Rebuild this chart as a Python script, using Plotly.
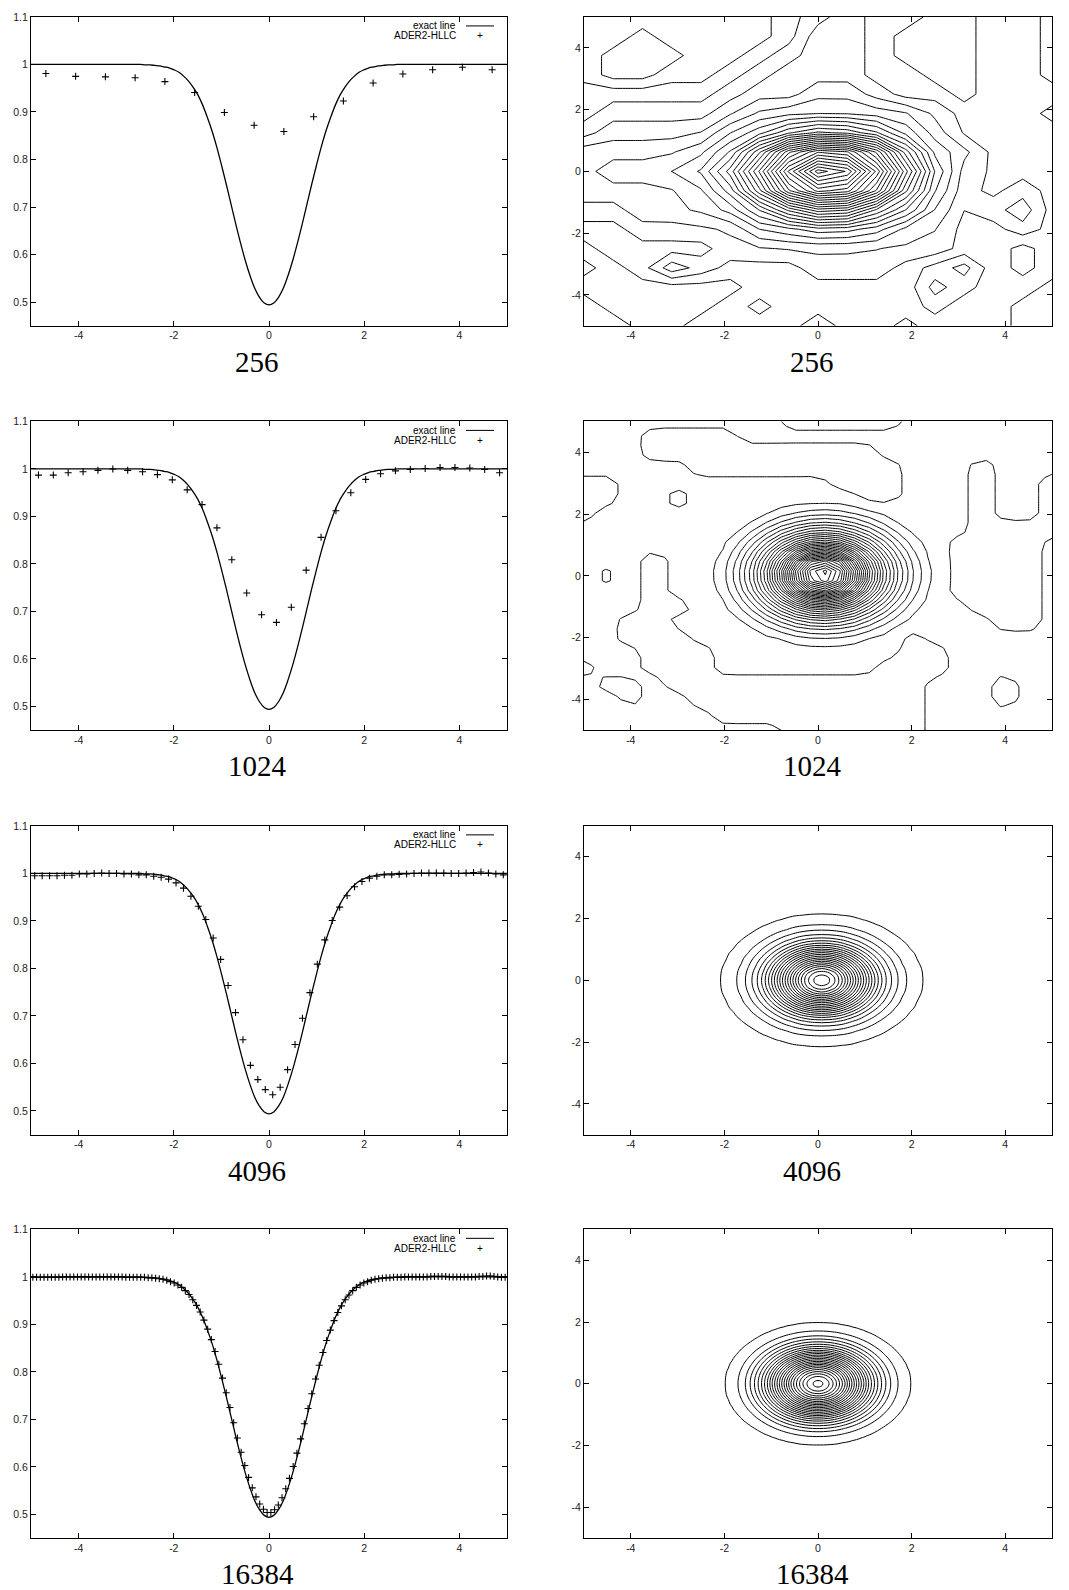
import numpy as np
import plotly.graph_objects as go

# ---------------- 1-D cuts (left column) ----------------
# exact profile, sampled at |x| = 0.0, 0.1, ..., 5.0
exact_r = [round(0.1 * i, 1) for i in range(51)]
exact_rho = [0.494, 0.498, 0.510, 0.529, 0.556, 0.588, 0.625, 0.665, 0.707, 0.749,
             0.789, 0.827, 0.861, 0.890, 0.916, 0.937, 0.953, 0.966, 0.976, 0.984,
             0.989, 0.993, 0.995, 0.997, 0.998, 0.999, 0.999, 1.000, 1.000, 1.000,
             1.000, 1.000, 1.000, 1.000, 1.000, 1.000, 1.000, 1.000, 1.000, 1.000,
             1.000, 1.000, 1.000, 1.000, 1.000, 1.000, 1.000, 1.000, 1.000, 1.000,
             1.000]

cut_256 = [0.981, 0.975, 0.974, 0.972, 0.964, 0.941, 0.899, 0.872,
           0.859, 0.890, 0.923, 0.961, 0.980, 0.989, 0.994, 0.989]

cut_1024 = [0.987, 0.987, 0.992, 0.994, 0.997, 1.000, 0.997, 0.994, 0.988, 0.977,
            0.956, 0.925, 0.876, 0.809, 0.739, 0.693, 0.677, 0.709, 0.787, 0.856,
            0.912, 0.950, 0.978, 0.990, 0.996, 0.999, 1.001, 1.003, 1.003, 1.002,
            0.999, 0.992]

cut_4096 = [0.995, 0.995, 0.995, 0.995, 0.996, 0.996, 0.999, 0.999, 1.000, 1.001,
            1.000, 1.000, 0.999, 0.999, 0.997, 0.997, 0.994, 0.992, 0.988, 0.980,
            0.969, 0.952, 0.931, 0.903, 0.864, 0.819, 0.764, 0.707, 0.650, 0.596,
            0.566, 0.545, 0.534, 0.550, 0.587, 0.640, 0.695, 0.749, 0.809, 0.860,
            0.901, 0.929, 0.953, 0.972, 0.983, 0.990, 0.994, 0.997, 0.997, 0.998,
            0.999, 1.000, 1.001, 1.001, 1.001, 1.001, 1.000, 1.000, 1.001, 1.002,
            1.003, 1.001, 0.999, 0.997]

cut_16384 = [0.999, 0.999, 0.999, 0.999, 0.999, 0.999, 0.999, 0.999, 1.000, 1.000,
             1.000, 1.000, 1.000, 1.000, 1.000, 1.000, 1.000, 1.000, 1.000, 1.000,
             1.000, 1.000, 1.000, 1.000, 1.000, 0.999, 0.999, 0.999, 0.999, 0.999,
             0.999, 0.998, 0.998, 0.997, 0.996, 0.995, 0.993, 0.990, 0.987, 0.983,
             0.978, 0.971, 0.963, 0.952, 0.940, 0.926, 0.909, 0.890, 0.868, 0.843,
             0.816, 0.787, 0.756, 0.725, 0.693, 0.661, 0.631, 0.603, 0.578, 0.556,
             0.537, 0.522, 0.511, 0.504,
             0.504, 0.510, 0.520, 0.535, 0.554, 0.576, 0.601, 0.629, 0.659, 0.691,
             0.723, 0.754, 0.785, 0.814, 0.841, 0.866, 0.888, 0.908, 0.925, 0.939,
             0.952, 0.962, 0.971, 0.978, 0.983, 0.987, 0.990, 0.993, 0.995, 0.996,
             0.997, 0.998, 0.998, 0.999,
             0.999, 0.999, 1.000, 1.000, 1.000, 1.000, 1.000, 1.000, 1.000, 1.001,
             1.001, 1.001, 1.001, 1.001, 1.000, 1.000, 1.000, 1.000, 1.000, 1.000,
             1.000, 1.000, 1.001, 1.001, 1.002, 1.002, 1.001, 1.000, 0.999, 0.999]

labels = ["256", "1024", "4096", "16384"]
mesh_n = {"256": 16, "1024": 32, "4096": 64, "16384": 128}

# ---------------- 2-D fields (right column) ----------------
# 256: background map (rows y=5 -> -5, cols x=-5 -> 5, step 0.625) + vortex deficit
bg256_levels = {"a": 0.972, "b": 0.977, "c": 0.982, "d": 0.987,
                "e": 0.992, "f": 0.997, "g": 1.002, "h": 1.007}
bg256_map = [
    "gggggggfedeeffeef",
    "gghggggfddefffeef",
    "ghhhggfeddefffeef",
    "ghhggfedddeeffeef",
    "fffffeddccdeefeee",
    "feeeedccccccdeeef",
    "eddddcccccccdeeee",
    "ccccccccccccddeee",
    "cbbbbbccccccdeeee",
    "ccccccccccccdeede",
    "ddccccccccccdedce",
    "eeddddcccccddeede",
    "feeeeddddddddeefe",
    "gfecdeeedddefgefe",
    "ffffffeeeeeegfeef",
    "effffefeeeeefeeff",
    "eeffeeeedeefeeeff",
]
def256_d = [0.0, 0.6, 1.25, 1.9, 2.5, 3.1, 3.8, 12.0]
def256_v = [0.127, 0.105, 0.070, 0.030, 0.010, 0.003, 0.0, 0.0]
center256 = (0.2, 0.0)
aspect256_up = 0.68
aspect256_down = 0.8

# 1024: far-field map (rows y=5 -> -5, cols x=-5 -> 5, step 0.5) + vortex deficit
bg1024_levels = {".": 0.997, "H": 1.004, "L": 0.984}
bg1024_map = [
    ".........HHHHH.......",
    "...HHHH..............",
    "...HHHHHHHHHH........",
    ".....HHHHHHHHH...H...",
    "LL.........HHH...H..H",
    "LL..H.......HH...H..H",
    "L................H..H",
    ".................HHHH",
    "................HHHH.",
    "...H............HHHH.",
    ".L.H............HHHH.",
    "...H............HHHH.",
    "...HH............HHH.",
    "..HH..............HH.",
    "..HHH.........H......",
    "...HHH........HH.....",
    "L..HHH.......HHH.....",
    ".LL.HHHHHHHHHHH...H..",
    "..L..HHHHHHHHHH...H..",
    "......HHHHHHHHH......",
    ".........HHHHHH......",
]
def1024_r = [0.0, 0.25, 0.5, 0.75, 1.0, 1.25, 1.5, 1.75, 2.0, 2.25, 2.5, 3.0, 8.0]
def1024_v = [0.329, 0.309, 0.265, 0.202, 0.145, 0.100, 0.066, 0.040, 0.021, 0.008, 0.003, 0.0, 0.0]
center1024 = (0.12, 0.05)

prof4096_r = [0.0, 0.08, 0.23, 0.39, 0.55, 0.7, 0.86, 1.02, 1.17, 1.33, 1.48, 1.64,
              1.8, 1.95, 2.11, 2.27, 2.42, 2.6, 3.0, 8.0]
prof4096_v = [0.532, 0.538, 0.557, 0.592, 0.645, 0.701, 0.757, 0.814, 0.862, 0.902,
              0.930, 0.952, 0.970, 0.981, 0.989, 0.993, 0.995, 0.997, 0.999, 0.999]
center4096 = (0.08, 0.0)

prof16384_r = [0.0, 0.04, 0.12, 0.2, 0.27, 0.35, 0.43, 0.51, 0.59, 0.66, 0.74, 0.82,
               0.9, 0.98, 1.05, 1.13, 1.21, 1.29, 1.37, 1.45, 1.52, 1.6, 1.68, 1.76,
               1.84, 1.91, 1.99, 2.07, 2.15, 2.3, 2.5, 3.0, 8.0]
prof16384_v = [0.503, 0.504, 0.511, 0.522, 0.537, 0.557, 0.580, 0.606, 0.634, 0.664,
               0.696, 0.728, 0.760, 0.790, 0.819, 0.846, 0.871, 0.893, 0.913, 0.930,
               0.945, 0.957, 0.967, 0.975, 0.981, 0.986, 0.9905, 0.993, 0.995, 0.997,
               0.998, 0.999, 0.999]
center16384 = (0.0, 0.0)

# contour levels (start, end, step)
levels = {
    "256": (0.86, 1.005, 0.005),
    "1024": (0.68, 1.0, 0.01),
    "4096": (0.55, 0.99, 0.02),
    "16384": (0.51, 0.99, 0.02),
}


# ---------------- helpers ----------------
def cell_centers(n):
    h = 10.0 / n
    return -5 + h / 2 + h * np.arange(n)


def mesh_nodes(n):
    # cell centres plus the two domain edges
    return np.concatenate([[-5.0], cell_centers(n), [5.0]])


def map_to_array(rows, table):
    return np.array([[table[c] for c in row] for row in rows])[::-1]


def upsample(coarse, cx, cy, fx, fy):
    tmp = np.array([np.interp(fx, cx, row) for row in coarse])
    return np.array([np.interp(fy, cy, tmp[:, j]) for j in range(len(fx))]).T


fields = {}
# 256 (contoured on the 17 nodes of the background map)
g = np.linspace(-5, 5, 17)
X, Y = np.meshgrid(g, g)
bg = map_to_array(bg256_map, bg256_levels)
dy = Y - center256[1]
ay = np.where(dy > 0, aspect256_up, aspect256_down)
d = np.sqrt((X - center256[0]) ** 2 + (dy / ay) ** 2)
fields["256"] = (g, bg - np.interp(d, def256_d, def256_v))
# 1024
g = mesh_nodes(mesh_n["1024"])
X, Y = np.meshgrid(g, g)
gc = np.linspace(-5, 5, 21)
bg = upsample(map_to_array(bg1024_map, bg1024_levels), gc, gc, g, g)
r = np.hypot(X - center1024[0], Y - center1024[1])
fields["1024"] = (g, bg - np.interp(r, def1024_r, def1024_v))
# 4096
g = mesh_nodes(mesh_n["4096"])
X, Y = np.meshgrid(g, g)
r = np.hypot(X - center4096[0], Y - center4096[1])
fields["4096"] = (g, np.interp(r, prof4096_r, prof4096_v))
# 16384
g = mesh_nodes(mesh_n["16384"])
X, Y = np.meshgrid(g, g)
r = np.hypot(X - center16384[0], Y - center16384[1])
fields["16384"] = (g, np.interp(r, prof16384_r, prof16384_v))

cuts = {"256": cut_256, "1024": cut_1024, "4096": cut_4096, "16384": cut_16384}

# ---------------- layout geometry ----------------
W, H = 1069, 1590
tops = [11, 417, 823, 1228]
ph = 310
left_dom = [31 / W, 507 / W]
right_dom = [584 / W, 1052 / W]

tick_font = dict(family="Liberation Sans, Arial, sans-serif", size=10.5, color="#222")


def axis(domain, rng, tv, tt, anchor):
    return dict(domain=domain, range=rng, tickvals=tv, ticktext=tt, ticks="inside",
                ticklen=5, tickwidth=1, tickcolor="black", showline=True,
                linecolor="black", linewidth=1, mirror="ticks", showgrid=False,
                zeroline=False, tickfont=tick_font, anchor=anchor)


xt = [-4, -2, 0, 2, 4]
xtt = ["-4", "-2", "0", "2", "4"]
yl_t = [0.5, 0.6, 0.7, 0.8, 0.9, 1.0, 1.1]
yl_tt = ["0.5", "0.6", "0.7", "0.8", "0.9", "1", "1.1"]

fig = go.Figure()
layout = dict(width=W, height=H, margin=dict(l=0, r=0, t=0, b=0),
              paper_bgcolor="white", plot_bgcolor="white", showlegend=False)
annotations = []
shapes = []

ex_x = [-v for v in exact_r[::-1]] + exact_r[1:]
ex_y = exact_rho[::-1] + exact_rho[1:]

for k, lab in enumerate(labels):
    T = tops[k]
    ydom = [1 - (T + ph) / H, 1 - T / H]
    ia = 2 * k + 1
    ib = 2 * k + 2
    xa_l, ya_l = f"x{ia}", f"y{ia}"
    xa_r, ya_r = f"x{ib}", f"y{ib}"
    layout[f"xaxis{ia}"] = axis(left_dom, [-5, 5], xt, xtt, ya_l)
    layout[f"yaxis{ia}"] = axis(ydom, [0.45, 1.1], yl_t, yl_tt, xa_l)
    layout[f"xaxis{ib}"] = axis(right_dom, [-5, 5], xt, xtt, ya_r)
    layout[f"yaxis{ib}"] = axis(ydom, [-5, 5], xt, xtt, xa_r)

    fig.add_trace(go.Scatter(x=ex_x, y=ex_y, mode="lines",
                             line=dict(color="black", width=1.3, shape="spline"),
                             xaxis=xa_l, yaxis=ya_l, hoverinfo="skip"))
    vals = cuts[lab]
    fig.add_trace(go.Scatter(x=cell_centers(len(vals)), y=vals, mode="markers",
                             marker=dict(symbol="cross-thin", size=5, color="black",
                                         line=dict(color="black", width=1.1)),
                             xaxis=xa_l, yaxis=ya_l, hoverinfo="skip"))

    gx, Z = fields[lab]
    s, e, st = levels[lab]
    fig.add_trace(go.Contour(x=gx, y=gx, z=Z,
                             contours=dict(start=s, end=e, size=st, coloring="none", showlabels=False),
                             line=dict(color="black", width=1,
                                       smoothing=0 if lab in ("256", "1024") else 1),
                             showscale=False, hoverinfo="skip", xaxis=xa_r, yaxis=ya_r))

    # legend (gnuplot style: text right-aligned, sample at right)
    ly1 = 1 - (T + 9) / H
    ly2 = 1 - (T + 19) / H
    leg_font = dict(family="Liberation Sans, Arial, sans-serif", size=10, color="black")
    annotations.append(dict(x=458 / W, y=ly1, xref="paper", yref="paper", text="exact line",
                            showarrow=False, xanchor="right", yanchor="middle", font=leg_font))
    annotations.append(dict(x=458 / W, y=ly2, xref="paper", yref="paper", text="ADER2-HLLC",
                            showarrow=False, xanchor="right", yanchor="middle", font=leg_font))
    annotations.append(dict(x=480 / W, y=ly2, xref="paper", yref="paper", text="+",
                            showarrow=False, xanchor="center", yanchor="middle", font=leg_font))
    shapes.append(dict(type="line", xref="paper", yref="paper", x0=466 / W, x1=494 / W,
                       y0=ly1, y1=ly1, line=dict(color="black", width=1)))

    # captions
    cy = 1 - (T + ph + 36) / H
    cap_font = dict(family="Liberation Serif, Times New Roman, serif", size=29, color="black")
    annotations.append(dict(x=257 / W, y=cy, xref="paper", yref="paper", text=lab,
                            showarrow=False, xanchor="center", yanchor="middle", font=cap_font))
    annotations.append(dict(x=812 / W, y=cy, xref="paper", yref="paper", text=lab,
                            showarrow=False, xanchor="center", yanchor="middle", font=cap_font))

layout["annotations"] = annotations
layout["shapes"] = shapes
fig.update_layout(**layout)
fig.write_html("out.html")
